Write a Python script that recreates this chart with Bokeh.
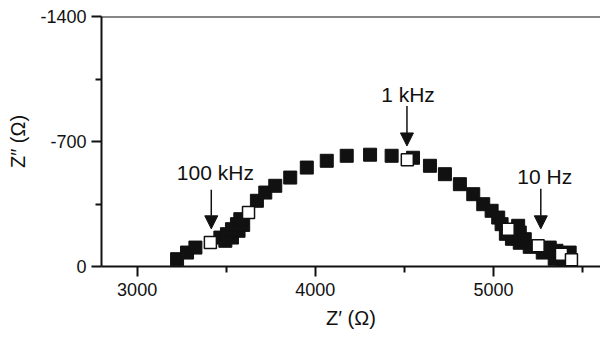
from bokeh.plotting import figure
from bokeh.models import Range1d, FixedTicker, Arrow, NormalHead, Span, ColumnDataSource, Label, PrintfTickFormatter
from bokeh.embed import file_html
from bokeh.resources import INLINE

# Filled squares: Z' (ohm), Z'' (ohm)
filled_x = [3224, 3280, 3327, 3495, 3467, 3532, 3504, 3569, 3532, 3595, 3560, 3579,
            3672, 3719, 3775, 3859, 3952, 4064, 4176, 4307, 4428, 4548, 4643, 4727,
            4811, 4886, 4942, 4989, 5026, 5045, 5069, 5103, 5138, 5147, 5147, 5175,
            5203, 5276, 5315, 5343, 5353, 5390, 5427]
filled_y = [-41, -78, -106, -144, -162, -162, -181, -200, -209, -233, -237, -265,
            -368, -414, -452, -498, -554, -592, -620, -626, -620, -609, -564, -517,
            -461, -405, -349, -312, -274, -237, -183, -155, -228, -190, -133, -153,
            -110, -78, -106, -43, -88, -15, -78]

# Open squares (decade frequency markers)
open_x = [3411, 3625, 4516, 5082, 5250, 5381, 5437]
open_y = [-134, -302, -598, -209, -116, -69, -38]

# Frequency annotations: label, x, arrow start y, arrow end y, text y
ann_labels = ["100 kHz", "1 kHz", "10 Hz"]
ann_x = [3416, 4514, 5265]
ann_text_x = [3439, 4520, 5287]
ann_y0 = [-430, -899, -435]
ann_y1 = [-211, -675, -211]
ann_text_y = [-525, -961, -502]

x_ticks = [3000, 4000, 5000]
x_minor = [3500, 4500, 5500]
y_ticks = [0, -700, -1400]
y_minor = [-350, -1050]

FONT = "Liberation Sans"
INK = "#111111"

p = figure(width=600, height=337, output_backend="svg", toolbar_location=None,
           x_range=Range1d(2800, 5600), y_range=Range1d(0, -1400),
           min_border_left=101, min_border_right=0, min_border_top=16, min_border_bottom=71)
p.outline_line_color = None
p.grid.visible = False
p.background_fill_color = "white"
p.border_fill_color = "white"

for ax in (p.xaxis[0], p.yaxis[0]):
    ax.axis_line_width = 2
    ax.axis_line_color = INK
    ax.major_tick_line_width = 2
    ax.minor_tick_line_width = 2
    ax.major_tick_line_color = INK
    ax.minor_tick_line_color = INK
    ax.major_tick_in = 0
    ax.major_tick_out = 10
    ax.minor_tick_in = 0
    ax.minor_tick_out = 6
    ax.major_label_text_font = FONT
    ax.major_label_text_font_size = "18px"
    ax.major_label_text_color = INK
    ax.axis_label_text_font = FONT
    ax.axis_label_text_font_size = "20px"
    ax.axis_label_text_font_style = "normal"
    ax.axis_label_text_color = INK
    ax.formatter = PrintfTickFormatter(format="%d")

p.xaxis.ticker = FixedTicker(ticks=x_ticks, minor_ticks=x_minor)
p.yaxis.ticker = FixedTicker(ticks=y_ticks, minor_ticks=y_minor)
p.xaxis.axis_label = "Z\u2032 (\u03a9)"
p.yaxis.axis_label = "Z\u2033 (\u03a9)"
p.xaxis.major_label_standoff = 6
p.yaxis.major_label_standoff = 5
p.xaxis.axis_label_standoff = 8
p.yaxis.axis_label_standoff = 8

# top frame line
p.add_layout(Span(location=y_ticks[-1], dimension="width", line_color=INK, line_width=2))

src_f = ColumnDataSource(dict(x=filled_x, y=filled_y))
src_o = ColumnDataSource(dict(x=open_x, y=open_y))
p.scatter("x", "y", source=src_f, marker="square", size=13, fill_color=INK, line_color=INK, line_width=1)
p.scatter("x", "y", source=src_o, marker="square", size=12, fill_color="white", line_color=INK, line_width=1.5)

for lab, xa, xt, y0, y1, yt in zip(ann_labels, ann_x, ann_text_x, ann_y0, ann_y1, ann_text_y):
    p.add_layout(Arrow(x_start=xa, y_start=y0, x_end=xa, y_end=y1, line_width=1.5, line_color=INK,
                       end=NormalHead(size=13, fill_color=INK, line_color=INK, line_width=1)))
    p.add_layout(Label(x=xt, y=yt, text=lab, text_align="center", text_baseline="middle",
                       text_font=FONT, text_font_size="21px", text_color=INK))

open("out.html", "w").write(file_html(p, INLINE))
